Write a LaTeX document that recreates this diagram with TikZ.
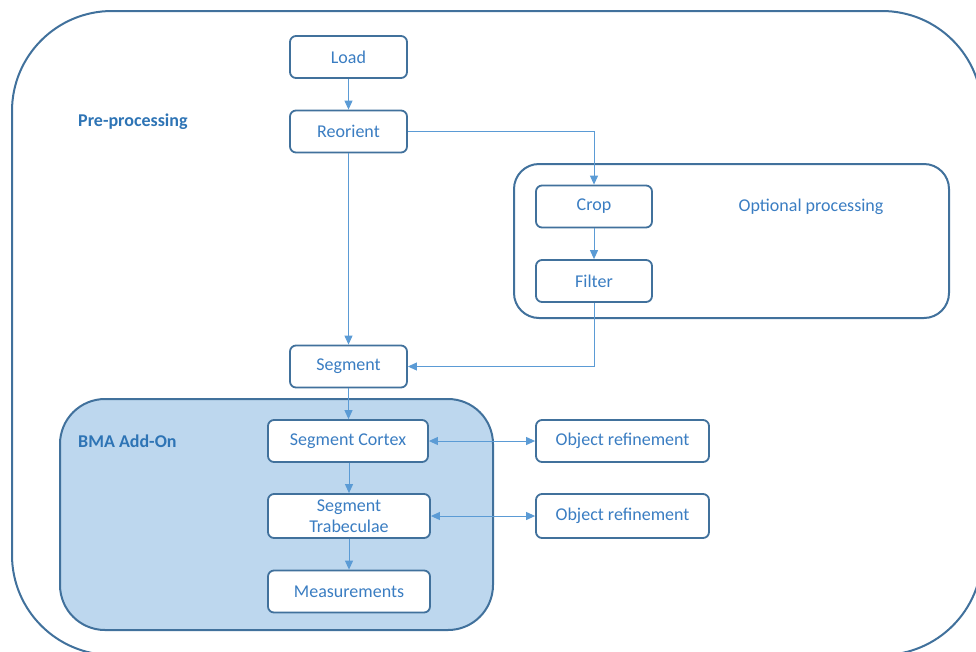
\documentclass[tikz,border=0pt]{standalone}
\usepackage{fontspec}
\setmainfont{Carlito}
\usetikzlibrary{arrows.meta,positioning}
\definecolor{bordc}{HTML}{41719C}
\definecolor{linec}{HTML}{5B9BD5}
\definecolor{txtc}{HTML}{3A7DC2}
\definecolor{boldc}{HTML}{2E74B5}
\definecolor{bmafill}{HTML}{BDD7EE}
\tikzset{
  x=1pt,y=-1pt,
  stepbox/.style={draw=bordc,line width=1.8pt,rounded corners=6pt,fill=white,
    minimum height=42pt,text=txtc,font=\fontsize{18}{21}\selectfont,align=center,inner sep=0pt},
  conn/.style={draw=linec,line width=1pt,-{Triangle[length=9pt,width=8pt]}},
  biconn/.style={draw=linec,line width=1pt,{Triangle[length=9pt,width=8pt]}-{Triangle[length=9pt,width=8pt]}},
  grouplbl/.style={text=boldc,font=\bfseries\fontsize{18}{21}\selectfont,inner sep=0pt},
  optlbl/.style={text=txtc,font=\fontsize{18}{21}\selectfont,inner sep=0pt}
}
\begin{document}
\begin{tikzpicture}
\useasboundingbox (0,0) rectangle (976,651);
\begin{scope}
\clip (0,0) rectangle (976,651);
\draw[bordc,line width=2pt,rounded corners=100pt] (12,11) rectangle (982,655);
\end{scope}
\draw[bordc,line width=2pt,rounded corners=25pt] (514,164) rectangle (949,318);
\draw[bordc,line width=2pt,fill=bmafill,rounded corners=45pt] (60,399) rectangle (493,630);

\node[grouplbl,anchor=west] (pre) at (78,122) {Pre-processing};
\node[grouplbl,anchor=west] (bma) at (78,441) {BMA Add-On};
\node[optlbl] (opt) at (811,207) {Optional processing};

\node[stepbox,minimum width=117pt] (load) at (348.5,57) {Load};
\node[stepbox,minimum width=117pt] (reorient) at (348.5,131.5) {Reorient};
\node[stepbox,minimum width=116pt] (crop) at (594,206.5) {Crop};
\node[stepbox,minimum width=116pt] (filter) at (594,281) {Filter};
\node[stepbox,minimum width=117pt] (segment) at (348.5,366.5) {Segment};
\node[stepbox,minimum width=160pt] (cortex) at (348,441) {Segment Cortex};
\node[stepbox,minimum width=162pt,minimum height=44pt] (trab) at (349,516) {Segment\\Trabeculae};
\node[stepbox,minimum width=162pt] (meas) at (349,591.5) {Measurements};
\node[stepbox,minimum width=173pt] (obj1) at (622.5,441) {Object refinement};
\node[stepbox,minimum width=173pt,minimum height=44pt] (obj2) at (622.5,516) {Object refinement};

\draw[conn] (load.south) -- (reorient.north);
\draw[conn] (reorient.east) -| (crop.north);
\draw[conn] (crop.south) -- (filter.north);
\draw[conn] (reorient.south) -- (segment.north);
\draw[conn] (filter.south) |- (segment.east);
\draw[conn] (segment.south) -- (segment.south |- cortex.north);
\draw[conn] (cortex.south -| trab.north) -- (trab.north);
\draw[conn] (trab.south) -- (meas.north);
\draw[biconn] (cortex.east) -- (obj1.west);
\draw[biconn] (trab.east) -- (obj2.west);
\end{tikzpicture}
\end{document}
